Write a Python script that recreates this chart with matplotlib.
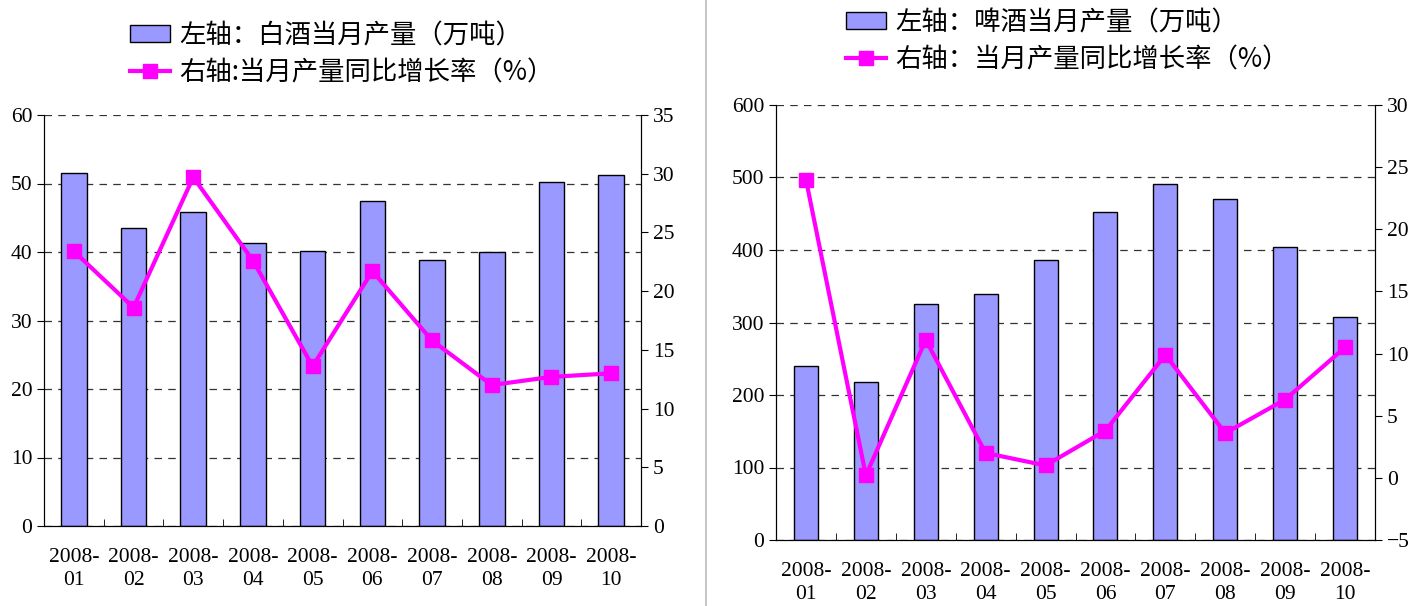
import numpy as np
import matplotlib.pyplot as plt
from matplotlib.patches import Patch
from matplotlib.lines import Line2D

months = ['2008-\n01', '2008-\n02', '2008-\n03', '2008-\n04', '2008-\n05',
          '2008-\n06', '2008-\n07', '2008-\n08', '2008-\n09', '2008-\n10']

# 白酒
baijiu_output = [51.5, 43.5, 45.9, 41.3, 40.2, 47.5, 38.9, 40.0, 50.2, 51.3]
baijiu_yoy = [23.4, 18.6, 29.7, 22.6, 13.6, 21.7, 15.8, 12.0, 12.7, 13.0]
baijiu_labels = ['左轴：白酒当月产量（万吨）', '右轴:当月产量同比增长率（%）']

# 啤酒
beer_output = [240, 218, 326, 339, 386, 453, 491, 471, 404, 308]
beer_yoy = [24.0, 0.2, 11.1, 2.0, 1.0, 3.8, 9.9, 3.6, 6.3, 10.5]
beer_labels = ['左轴：啤酒当月产量（万吨）', '右轴：当月产量同比增长率（%）']

bar_color = '#9999FF'
line_color = '#FF00FF'
cjk = ['Noto Sans CJK SC', 'DejaVu Sans']
num_font = 'Liberation Serif'
num_size = 15.5

fig = plt.figure(figsize=(14.21, 6.06), dpi=100)


def draw_panel(rect, bars, line, ylim1, step1, ylim2, step2, bar_w, leg_labels, leg_xy):
    ax = fig.add_axes(rect)
    x = np.arange(len(bars))
    ax.bar(x, bars, width=bar_w, color=bar_color, edgecolor='black', linewidth=1, zorder=2)
    ax.set_xlim(-0.5, len(bars) - 0.5)
    ax.set_ylim(*ylim1)
    ax.set_yticks(np.arange(ylim1[0], ylim1[1] + step1 / 2, step1))
    ax.yaxis.grid(True, linestyle=(0, (6, 5)), color='#333333', linewidth=0.9)
    ax.set_axisbelow(True)
    ax.set_xticks(x)
    ax.set_xticklabels(months, linespacing=1.3)
    ax.set_xticks(np.arange(-0.5, len(bars), 1), minor=True)
    ax.tick_params(axis='x', which='major', length=0, pad=16)
    ax.tick_params(axis='x', which='minor', direction='in', length=5)
    ax.tick_params(axis='y', direction='out', length=5)
    ax.spines['top'].set_visible(False)
    for t in ax.get_xticklabels() + ax.get_yticklabels():
        t.set_fontfamily(num_font)
        t.set_fontsize(num_size)

    ax2 = ax.twinx()
    ax2.plot(x, line, color=line_color, linewidth=3, marker='s', markersize=10, zorder=3)
    ax2.set_ylim(*ylim2)
    ax2.set_yticks(np.arange(ylim2[0], ylim2[1] + step2 / 2, step2))
    ax2.tick_params(axis='y', direction='out', length=5)
    ax2.spines['top'].set_visible(False)
    for t in ax2.get_yticklabels():
        t.set_fontfamily(num_font)
        t.set_fontsize(num_size)

    handles = [Patch(facecolor=bar_color, edgecolor='black', linewidth=1),
               Line2D([], [], color=line_color, linewidth=3, marker='s', markersize=10)]
    fig.legend(handles, leg_labels, loc='upper left', bbox_to_anchor=leg_xy,
               frameon=False, prop={'family': cjk, 'size': 19},
               handlelength=1.5, handleheight=0.6, handletextpad=0.35,
               labelspacing=0.38, borderpad=0, borderaxespad=0)
    return ax, ax2


draw_panel([44 / 1421, 1 - 526 / 606, 597 / 1421, 411 / 606],
           baijiu_output, baijiu_yoy, (0, 60), 10, (0, 35), 5, 0.43,
           baijiu_labels, (130 / 1421, 1 - 22 / 606))
draw_panel([776 / 1421, 1 - 540 / 606, 599 / 1421, 435 / 606],
           beer_output, beer_yoy, (0, 600), 100, (-5, 30), 5, 0.4,
           beer_labels, (846 / 1421, 1 - 9 / 606))

# 中间分隔线
fig.add_artist(Line2D([706 / 1421, 706 / 1421], [0, 1], color='#BBBBBB', linewidth=1.2))

fig.savefig('out.png', dpi=100)
